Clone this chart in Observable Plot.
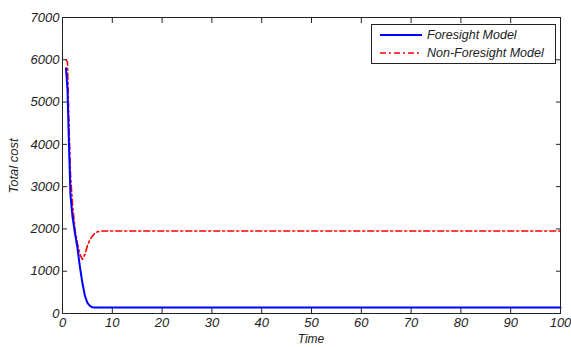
<!DOCTYPE html>
<html><head><meta charset="utf-8">
<script src="https://cdn.jsdelivr.net/npm/d3@7"></script>
<script src="https://cdn.jsdelivr.net/npm/@observablehq/plot@0.6"></script>
<style>
body{margin:0;background:#fff;}
#wrap{position:relative;width:571px;height:347px;font-family:Arial,"Liberation Sans",sans-serif;font-style:italic;}
#legend{position:absolute;left:371px;top:24px;width:185px;height:40px;border:1px solid #222;background:#fff;box-sizing:border-box;font-size:12.5px;color:#222;}
#legend .row{position:absolute;left:8px;display:flex;align-items:center;}
#legend svg{margin-right:5px;}
</style></head>
<body><div id="wrap"></div>
<script>
const timeF = [0.7,1,1.3,1.6,2,2.5,3,3.5,4,4.5,5,5.5,6,6.5,10,20,30,40,50,60,70,80,90,100];
const foresight = [5800,5300,4000,2800,2300,1900,1550,1100,720,420,250,180,145,140,140,140,140,140,140,140,140,140,140,140];
const timeN = [0.7,1,1.3,1.6,2,2.5,3,3.5,4,4.5,5,5.5,6,6.5,7,7.7,10,20,30,40,50,60,70,80,90,100];
const nonForesight = [6000,5950,4500,3300,2600,2000,1650,1400,1280,1400,1600,1750,1830,1900,1930,1950,1950,1950,1950,1950,1950,1950,1950,1950,1950,1950];
const xTicks = [0,10,20,30,40,50,60,70,80,90,100];
const yTicks = [0,1000,2000,3000,4000,5000,6000,7000];
const seriesNames = ["Foresight Model","Non-Foresight Model"];

const dataF = timeF.map((t,i)=>({t, v: foresight[i]}));
const dataN = timeN.map((t,i)=>({t, v: nonForesight[i]}));

const chart = Plot.plot({
  width: 571, height: 347,
  marginLeft: 62, marginRight: 11, marginTop: 17, marginBottom: 34,
  style: {fontFamily: "Arial, 'Liberation Sans', sans-serif", fontStyle: "italic", fontSize: "13px", color: "#222", background: "#fff"},
  x: {domain: [0,100]},
  y: {domain: [0,7000]},
  marks: [
    Plot.line(dataN, {x: "t", y: "v", stroke: "#ff0000", strokeWidth: 1.6, strokeDasharray: "6,3,2,3"}),
    Plot.line(dataF, {x: "t", y: "v", stroke: "#0000ff", strokeWidth: 2}),
    Plot.axisX({ticks: xTicks, tickSize: 0, tickPadding: 4, tickFormat: d=>String(d), fontSize: 13, label: null}),
    Plot.axisX({ticks: xTicks, tickSize: -5, text: null, label: null, stroke: "#222"}),
    Plot.axisX({anchor: "top", ticks: xTicks, tickSize: -5, text: null, label: null, stroke: "#222"}),
    Plot.axisY({ticks: yTicks, tickSize: 0, tickPadding: 3, tickFormat: d=>String(d), fontSize: 13, label: null}),
    Plot.axisY({ticks: yTicks, tickSize: -5, text: null, label: null, stroke: "#222"}),
    Plot.axisY({anchor: "right", ticks: yTicks, tickSize: -5, text: null, label: null, stroke: "#222"}),
    Plot.frame({stroke: "#222"})
  ]
});
const wrap = document.getElementById("wrap");
wrap.appendChild(chart);

// axis titles
const svg = d3.select(chart);
svg.append("text").attr("x", 311).attr("y", 343).attr("text-anchor","middle")
  .attr("font-size", 12).attr("fill","#222").text("Time");
svg.append("text").attr("transform","translate(18,166) rotate(-90)").attr("text-anchor","middle")
  .attr("font-size", 13).attr("fill","#222").text("Total cost");

// legend
const leg = document.createElement("div");
leg.id = "legend";
const styles = [{c:"#0000ff", d:null, w:2},{c:"#ff0000", d:"6,3,2,3", w:1.6}];
seriesNames.forEach((n,i)=>{
  const r = document.createElement("div");
  r.className = "row";
  r.style.top = (i===0 ? 2 : 20) + "px";
  r.innerHTML = `<svg width="42" height="16"><line x1="0" x2="42" y1="8" y2="8" stroke="${styles[i].c}" stroke-width="${styles[i].w}" ${styles[i].d?`stroke-dasharray="${styles[i].d}"`:""}/></svg><span>${n}</span>`;
  leg.appendChild(r);
});
wrap.appendChild(leg);
</script></body></html>
